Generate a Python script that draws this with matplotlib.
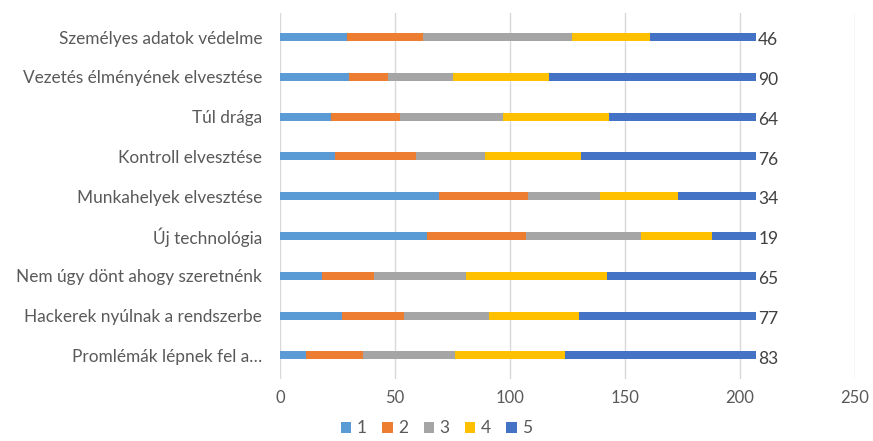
import matplotlib.pyplot as plt
import numpy as np

categories = [
    "Személyes adatok védelme",
    "Vezetés élményének elvesztése",
    "Túl drága",
    "Kontroll elvesztése",
    "Munkahelyek elvesztése",
    "Új technológia",
    "Nem úgy dönt ahogy szeretnénk",
    "Hackerek nyúlnak a rendszerbe",
    "Promlémák lépnek fel a…",
]
series_names = ["1", "2", "3", "4", "5"]
s1 = [29, 30, 22, 24, 69, 64, 18, 27, 11]
s2 = [33, 17, 30, 35, 39, 43, 23, 27, 25]
s3 = [65, 28, 45, 30, 31, 50, 40, 37, 40]
s4 = [34, 42, 46, 42, 34, 31, 61, 39, 48]
s5 = [46, 90, 64, 76, 34, 19, 65, 77, 83]
colors = ["#5B9BD5", "#ED7D31", "#A5A5A5", "#FFC000", "#4472C4"]


def draw_chart():
    plt.rcParams["font.family"] = ["Lato", "DejaVu Sans"]
    fig = plt.figure(figsize=(8.73, 4.41), dpi=100)
    ax = fig.add_axes([0.321, 0.14, 0.658, 0.83])

    y = np.arange(len(categories))
    left = np.zeros(len(categories))
    for name, vals, col in zip(series_names, [s1, s2, s3, s4, s5], colors):
        ax.barh(y, vals, left=left, height=0.2, color=col, label=name)
        left += np.array(vals)

    for yi, tot, v in zip(y, left, s5):
        ax.text(tot + 1, yi + 0.08, str(v), va="center", ha="left",
                fontsize=12.5, color="#404040")

    ax.set_yticks(y)
    ax.set_yticklabels(categories, fontsize=12.4, color="#595959")
    ax.invert_yaxis()
    ax.set_ylim(8.6, -0.6)
    ax.set_xlim(0, 250)
    ax.set_xticks([0, 50, 100, 150, 200, 250])
    ax.tick_params(axis="x", labelsize=12, colors="#595959", length=0, pad=8)
    ax.tick_params(axis="y", length=0, pad=13)
    ax.grid(axis="x", color="#D9D9D9", linewidth=1)
    ax.set_axisbelow(True)
    for s in ax.spines.values():
        s.set_visible(False)

    leg = fig.legend(loc="lower center", bbox_to_anchor=(0.5, -0.025), ncol=5,
                     frameon=False, fontsize=12.5, handlelength=0.6,
                     handleheight=0.6, handletextpad=0.3, columnspacing=0.9)
    for t in leg.get_texts():
        t.set_color("#595959")

    fig.savefig("out.png", dpi=100)


if __name__ == '__main__':
    draw_chart()
